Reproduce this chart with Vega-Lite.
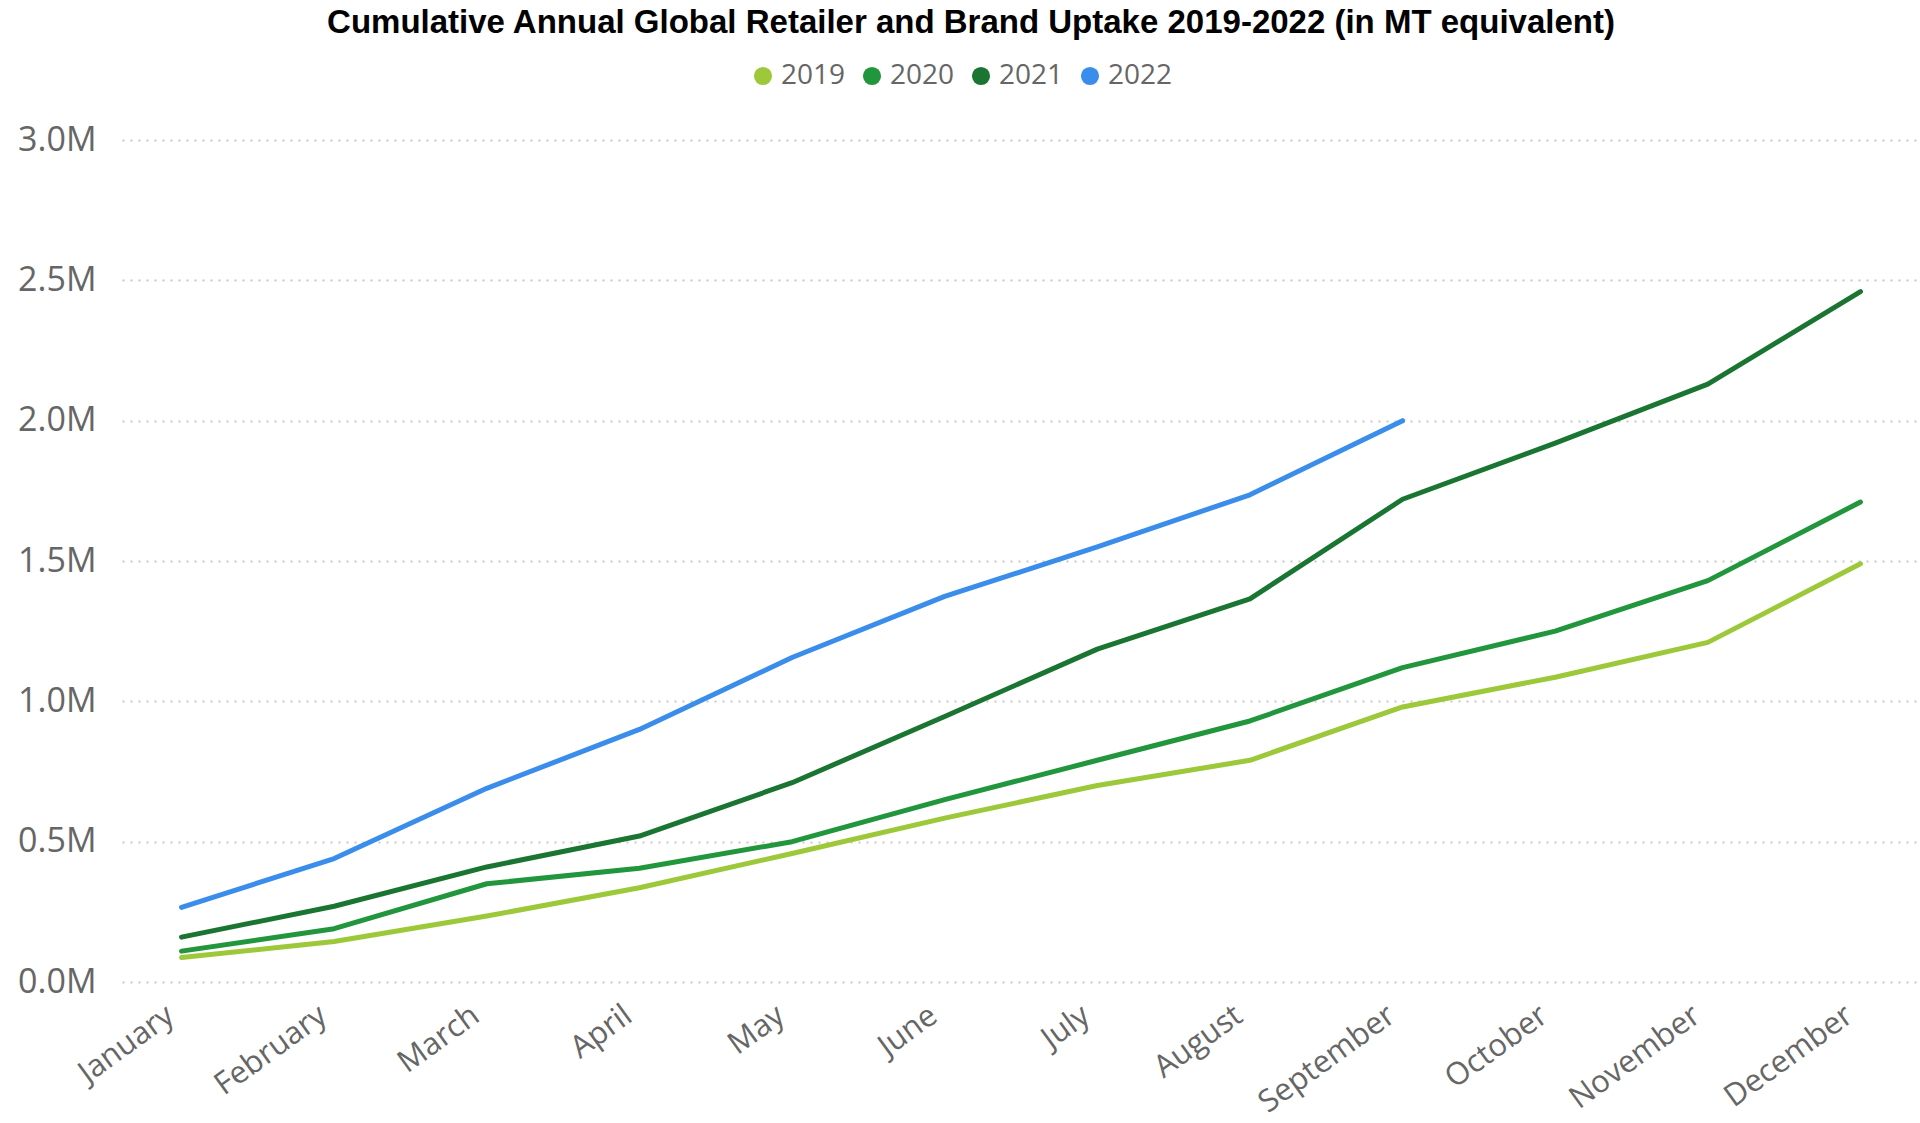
{
  "$schema": "https://vega.github.io/schema/vega-lite/v6.json",
  "autosize": "none",
  "width": 1798,
  "height": 842,
  "padding": {"left": 122, "top": 140, "right": 0, "bottom": 141},
  "background": "white",
  "title": {
    "text": "Cumulative Annual Global Retailer and Brand Uptake 2019-2022 (in MT equivalent)",
    "font": "Liberation Sans",
    "fontSize": 33,
    "fontWeight": "bold",
    "color": "#000000",
    "anchor": "middle",
    "frame": "group",
    "dx": -50,
    "offset": 22
  },
  "data": {
    "values": [
      {"month": "January", "year": "2019", "value": 87000},
      {"month": "February", "year": "2019", "value": 144000},
      {"month": "March", "year": "2019", "value": 235000},
      {"month": "April", "year": "2019", "value": 336000},
      {"month": "May", "year": "2019", "value": 458000},
      {"month": "June", "year": "2019", "value": 584000},
      {"month": "July", "year": "2019", "value": 700000},
      {"month": "August", "year": "2019", "value": 790000},
      {"month": "September", "year": "2019", "value": 980000},
      {"month": "October", "year": "2019", "value": 1086000},
      {"month": "November", "year": "2019", "value": 1210000},
      {"month": "December", "year": "2019", "value": 1490000},
      {"month": "January", "year": "2020", "value": 110000},
      {"month": "February", "year": "2020", "value": 190000},
      {"month": "March", "year": "2020", "value": 350000},
      {"month": "April", "year": "2020", "value": 405000},
      {"month": "May", "year": "2020", "value": 500000},
      {"month": "June", "year": "2020", "value": 650000},
      {"month": "July", "year": "2020", "value": 790000},
      {"month": "August", "year": "2020", "value": 930000},
      {"month": "September", "year": "2020", "value": 1120000},
      {"month": "October", "year": "2020", "value": 1250000},
      {"month": "November", "year": "2020", "value": 1430000},
      {"month": "December", "year": "2020", "value": 1710000},
      {"month": "January", "year": "2021", "value": 160000},
      {"month": "February", "year": "2021", "value": 270000},
      {"month": "March", "year": "2021", "value": 410000},
      {"month": "April", "year": "2021", "value": 520000},
      {"month": "May", "year": "2021", "value": 710000},
      {"month": "June", "year": "2021", "value": 946000},
      {"month": "July", "year": "2021", "value": 1186000},
      {"month": "August", "year": "2021", "value": 1365000},
      {"month": "September", "year": "2021", "value": 1720000},
      {"month": "October", "year": "2021", "value": 1920000},
      {"month": "November", "year": "2021", "value": 2130000},
      {"month": "December", "year": "2021", "value": 2460000},
      {"month": "January", "year": "2022", "value": 266000},
      {"month": "February", "year": "2022", "value": 440000},
      {"month": "March", "year": "2022", "value": 690000},
      {"month": "April", "year": "2022", "value": 900000},
      {"month": "May", "year": "2022", "value": 1156000},
      {"month": "June", "year": "2022", "value": 1374000},
      {"month": "July", "year": "2022", "value": 1550000},
      {"month": "August", "year": "2022", "value": 1736000},
      {"month": "September", "year": "2022", "value": 2000000}
    ]
  },
  "mark": {"type": "line", "strokeWidth": 5, "strokeCap": "round", "strokeJoin": "round"},
  "encoding": {
    "x": {
      "field": "month",
      "type": "ordinal",
      "sort": ["January","February","March","April","May","June","July","August","September","October","November","December"],
      "scale": {"type": "point", "padding": 0.39},
      "axis": {
        "title": null,
        "labelAngle": -36,
        "labelFont": "Open Sans",
        "labelFontSize": 31,
        "labelColor": "#666666",
        "labelPadding": 18,
        "labelOffset": -20,
        "domain": false,
        "ticks": false,
        "grid": false
      }
    },
    "y": {
      "field": "value",
      "type": "quantitative",
      "scale": {"domain": [0, 3000000], "nice": false},
      "axis": {
        "title": null,
        "values": [0, 500000, 1000000, 1500000, 2000000, 2500000, 3000000],
        "labelExpr": "format(datum.value / 1000000, '.1f') + 'M'",
        "labelFont": "Open Sans",
        "labelFontSize": 34,
        "labelColor": "#666666",
        "labelPadding": 26,
        "domain": false,
        "ticks": false,
        "grid": true,
        "gridColor": "#c8c8c8",
        "gridWidth": 2,
        "gridDash": [2, 6]
      }
    },
    "color": {
      "field": "year",
      "type": "nominal",
      "scale": {"domain": ["2019","2020","2021","2022"], "range": ["#9DC83A","#21963D","#1A7532","#3A8DEB"]},
      "legend": {
        "title": null,
        "orient": "none",
        "direction": "horizontal",
        "legendX": 627,
        "legendY": -78,
        "symbolType": "circle",
        "symbolSize": 330,
        "symbolStrokeWidth": 0,
        "labelFont": "Open Sans",
        "labelFontSize": 28,
        "labelColor": "#666666",
        "columnPadding": 12,
        "labelOffset": 4,
        "encode": {
          "symbols": {"update": {"fill": {"scale": "color", "field": "value"}, "opacity": {"value": 1}}}
        }
      }
    }
  },
  "config": {"view": {"stroke": null}}
}
